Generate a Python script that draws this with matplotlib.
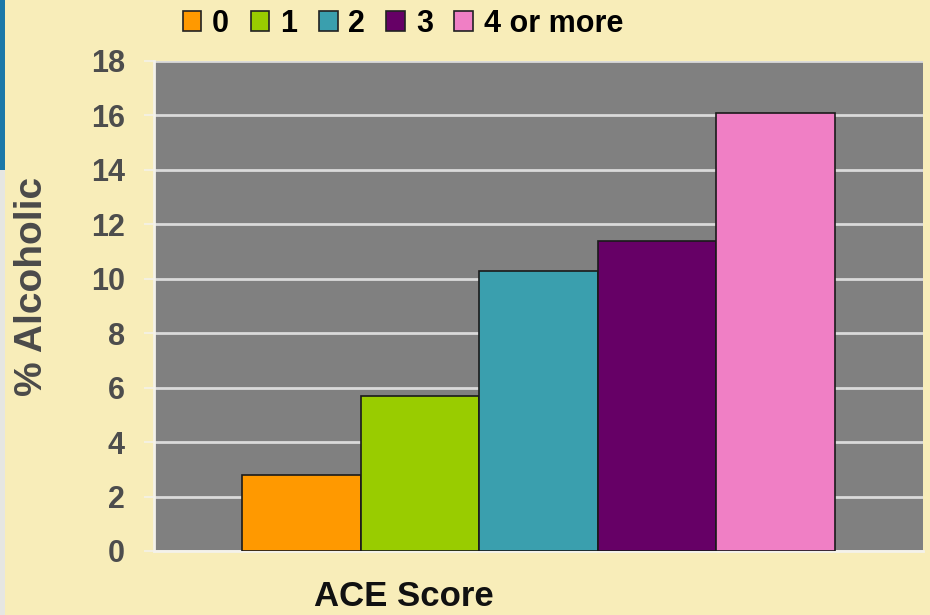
import matplotlib
matplotlib.use("Agg")
import matplotlib.pyplot as plt
from matplotlib.patches import Rectangle, Patch

categories = ["0", "1", "2", "3", "4 or more"]
values = [2.8, 5.7, 10.3, 11.4, 16.1]
colors = ["#FF9900", "#99CC00", "#3A9FAE", "#660066", "#F07FC5"]
yticks = [0, 2, 4, 6, 8, 10, 12, 14, 16, 18]

plt.rcParams['font.family'] = ['Liberation Sans', 'DejaVu Sans']

fig = plt.figure(figsize=(9.3, 6.15), dpi=100)
fig.patch.set_facecolor("#F8EDB9")
# slide decoration
fig.patches.append(Rectangle((0, 1 - 170/615), 5/930, 170/615, transform=fig.transFigure,
                             facecolor="#1B78A8", edgecolor="none"))
fig.patches.append(Rectangle((0, 0), 5/930, 1 - 170/615, transform=fig.transFigure,
                             facecolor="#E6E6E2", edgecolor="none"))

ax = fig.add_axes([154/930, 1 - 551/615, 769/930, 490/615])
ax.set_facecolor("#808080")

width = 0.77 / len(values)
start = -0.77 / 2 + width / 2
for i, (c, v, col) in enumerate(zip(categories, values, colors)):
    ax.bar(start + i * width, v, width=width, color=col, edgecolor="#1a1a1a",
           linewidth=1.2, label=c, zorder=3)

ax.set_xlim(-0.5, 0.5)
ax.set_ylim(0, 18)
ax.set_yticks(yticks)
ax.set_yticklabels([str(t) for t in yticks], fontsize=22, fontweight="bold", color="#4D4D4D")
ax.set_xticks([])
ax.yaxis.grid(True, color="#DADADA", linewidth=2, zorder=1)
ax.set_axisbelow(True)
ax.tick_params(axis="y", direction="out", length=7, width=1.5, color="#F4F0E0", pad=14)
for s in ["top", "right"]:
    ax.spines[s].set_visible(False)
ax.spines["left"].set_color("#F4F2EA")
ax.spines["left"].set_linewidth(2)
ax.spines["bottom"].set_color("#F4F2EA")
ax.spines["bottom"].set_linewidth(2)

fig.text(32/930, 1 - 286/615, "% Alcoholic", rotation=90, ha="center", va="center",
         fontsize=28, fontweight="bold", color="#4A4A4A")
fig.text(404/930, 1 - 597/615, "ACE Score", ha="center", va="center",
         fontsize=25, fontweight="bold", color="#111111")

handles = [Patch(facecolor=col, edgecolor="#222222", linewidth=1.2) for col in colors]
leg = fig.legend(handles, categories, loc="center", bbox_to_anchor=(403/930, 1 - 24/615),
                 ncol=5, frameon=False, prop={"size": 22, "weight": "bold"},
                 handlelength=0.62, handleheight=0.62, handletextpad=0.35, columnspacing=0.7,
                 borderaxespad=0, borderpad=0)

fig.savefig("out.png", dpi=100, facecolor=fig.get_facecolor())
